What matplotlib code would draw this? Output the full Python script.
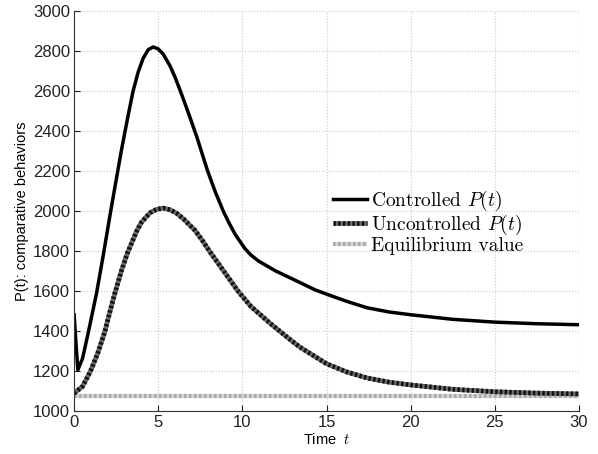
import numpy as np
import matplotlib
matplotlib.use('Agg')
import matplotlib.pyplot as plt

# values
t_ctrl = [0, 0.1, 0.22, 0.5, 0.83, 1.33, 1.73, 2.12, 2.42, 2.82, 3.21, 3.5, 3.8, 4.1, 4.4, 4.7,
          5.0, 5.3, 5.7, 6.0, 6.3, 6.8, 7.3, 7.94, 8.4, 8.87, 9.2, 9.57, 10.14, 10.5, 10.95,
          11.95, 13.0, 14.33, 15.2, 16.2, 17.4, 18.7, 20.0, 22.5, 25.0, 27.5, 30.0]
p_ctrl = [1482, 1350, 1207, 1265, 1390, 1590, 1780, 1975, 2120, 2310, 2480, 2600, 2695, 2765, 2808, 2822,
          2812, 2785, 2727, 2670, 2605, 2490, 2370, 2200, 2095, 2000, 1943, 1885, 1815, 1782, 1752,
          1703, 1661, 1607, 1580, 1550, 1518, 1497, 1483, 1460, 1446, 1438, 1433]

t_unc = [0, 0.5, 0.97, 1.4, 1.83, 2.1, 2.42, 2.8, 3.16, 3.71, 4.0, 4.5, 4.9, 5.3, 5.7, 6.1,
         6.5, 7.18, 7.6, 8.05, 8.9, 9.75, 10.5, 11.65, 12.64, 13.4, 15.0, 16.2, 17.4,
         18.7, 20.0, 22.5, 25.0, 27.5, 30.0]
p_unc = [1090, 1125, 1200, 1290, 1400, 1490, 1590, 1700, 1790, 1900, 1945, 1992, 2010, 2016, 2008, 1990,
         1962, 1905, 1857, 1800, 1700, 1600, 1525, 1440, 1372, 1322, 1238, 1197, 1167,
         1146, 1132, 1110, 1098, 1091, 1087]

t_eq = [0, 30]
p_eq = [1077, 1077]

labels = [r'Controlled $P(t)$', r'Uncontrolled $P(t)$', 'Equilibrium value']

plt.rcParams['font.family'] = ['Liberation Sans', 'DejaVu Sans']
plt.rcParams['mathtext.fontset'] = 'cm'

fig = plt.figure(figsize=(5.98, 4.54), dpi=100)
ax = fig.add_axes([0.124, 0.094, 0.844, 0.881])

# equilibrium: light gray dotted band
e1, = ax.plot(t_eq, p_eq, color='#d4d4d4', lw=3.0, solid_capstyle='butt')
e2, = ax.plot(t_eq, p_eq, color='#aaaaaa', lw=3.0, dashes=(0.6, 0.6))

# uncontrolled: dark dotted band
u1, = ax.plot(t_unc, p_unc, color='#6a6a6a', lw=3.4, solid_capstyle='butt')
u2, = ax.plot(t_unc, p_unc, color='#111111', lw=3.4, dashes=(0.5, 0.5))

# controlled: solid black
c1, = ax.plot(t_ctrl, p_ctrl, color='black', lw=2.5)

ax.set_xlim(0, 30)
ax.set_ylim(1000, 3000)
ax.set_xticks(np.arange(0, 31, 5))
ax.set_yticks(np.arange(1000, 3001, 200))
ax.grid(True, color='#c8c8c8', linestyle=':', linewidth=0.8)
ax.tick_params(direction='in', length=4, labelsize=12, colors='#222222', pad=3)
ax.spines['top'].set_visible(False)
ax.spines['right'].set_visible(False)
ax.spines['left'].set_color('#333333')
ax.spines['bottom'].set_color('#333333')

ax.set_xlabel(r'Time  $t$', fontsize=10.5, labelpad=1)
ax.set_ylabel('P(t): comparative behaviors', fontsize=10.5, labelpad=3)

leg = ax.legend([c1, (u1, u2), (e1, e2)], labels,
                loc='center left', bbox_to_anchor=(0.513, 0.474), frameon=False,
                prop={'family': 'cmr10', 'size': 14}, handlelength=1.75,
                handletextpad=0.2, labelspacing=0.0, borderpad=0, borderaxespad=0)

fig.savefig('out.png', dpi=100)
